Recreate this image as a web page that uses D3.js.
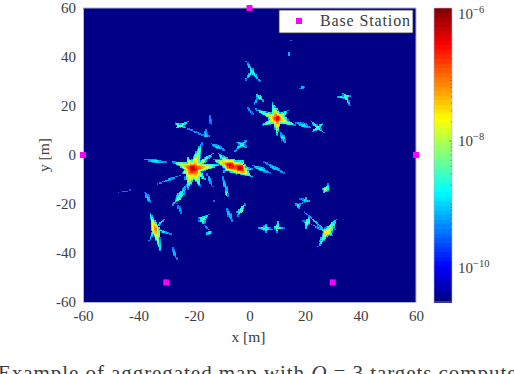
<!DOCTYPE html>
<html>
<head>
<meta charset="utf-8">
<script src="https://cdn.jsdelivr.net/npm/d3@7"></script>
<style>
  html, body { margin: 0; padding: 0; background: #fff; overflow: hidden; }
  text { font-family: "Liberation Serif", serif; fill: #3c3c3c; }
  .tick text { font-size: 15px; }
</style>
</head>
<body>
<div id="chart"></div>
<script>
// base stations, metres
var stationX = [0, -60, 60, -30, 30];
var stationY = [60, 0, 0, -52, -52];

var xTicks = [-60, -40, -20, 0, 20, 40, 60];
var yTicks = [-60, -40, -20, 0, 20, 40, 60];
var cbarMajor = [-6, -8, -10];

// log10 range of the colour bar
var powerLow = -10.54, powerHigh = -5.9;
var edgePower = -9.5;

// jet
var jetStops = ["#00007f", "#0000ff", "#00ffff", "#ffff00", "#ff0000", "#7f0000"];
var jetPos = [0, 0.125, 0.375, 0.625, 0.875, 1];

// spikes: from x0,y0 (the strong end) out to x1,y1, half width [m], peak log10 power
var mainArms = [
  [10,15,8,21.8,2,-6.5],[10,15,9.8,8.2,1.6,-6.5],[10,15,2,18.8,1.7,-6.9],[10,15,4.4,12.2,1.7,-6.9],
  [10,15,16.4,12.2,1.7,-6.8],[10,15,13.9,18.4,1.7,-6.9],[10,15,14,15,2.2,-6.3],[10,15,5.6,16,2.2,-6.3],
  [10,15,12.5,14,2.6,-6.2],[10,15,7.5,16,2.6,-6.2]
];
var clusterAArms = [
  [-20.3,-5.4,-28,-2.7,2.2,-6.3],[-20.3,-5.4,-24.4,-7.5,2.6,-6.1],[-20.3,-5.4,-10,-3.8,2.4,-6.4],
  [-20.3,-5.4,-17.2,5.4,2.2,-6.9],[-20.3,-5.4,-22.6,-0.7,2,-6.2],[-20.3,-5.4,-17.8,-12.9,2.4,-6.4],
  [-20.3,-5.4,-22.6,-14.3,2.2,-6.8],[-20.3,-5.4,-12.4,1.3,1.2,-7.2],[-20.3,-5.4,-17.9,-2,3.2,-6],
  [-20.3,-5.4,-23.3,-10.2,3.2,-6],[-20.3,-5.4,-16,-10,2,-6.3],[-20.3,-5.4,-24.3,-4,3.2,-6]
];
var clusterBArms = [
  [-7,-4,-13,-1.8,2.6,-6.2],[-7,-4,1.4,-9.1,2.8,-6.3],[-7,-4,1.3,-6.1,2.4,-6.5],[-7,-4,-11.4,0.8,1.8,-7],
  [-7,-4,-9.5,-6.9,1.8,-7],[-7,-4,-1.6,-2,1.8,-6.8],[-3.4,-5.3,-8.8,-2,2.8,-6.1],[-3.4,-5.3,0.2,-8.6,2.4,-6.1]
];
var starArms = [
  // X shapes and small stars
  [24.6,11.3,21.8,14,0.5,-8.2],[24.6,11.3,26.8,9.3,0.5,-8.2],[24.6,11.3,22.4,9.5,0.5,-8.2],[24.6,11.3,26.4,12.9,0.5,-8.2],
  [34.7,23.8,31.2,23.6,0.6,-8.2],[34.7,23.8,36.2,20,0.6,-8.2],[34.7,23.8,33.6,25.6,0.6,-8.2],[34.7,23.8,36.5,24.5,0.6,-8.2],
  [0.8,34.3,-1.3,38.5,0.5,-8.5],[0.8,34.3,4,29.7,0.5,-8.5],[0.8,34.3,-1.7,30.3,0.5,-8.5],[0.8,34.3,1.6,35.5,0.5,-8.5],
  [-25,12,-27.2,13.3,0.6,-7.9],[-25,12,-22,13.8,0.6,-7.9],[-25,12,-26.8,10.9,0.6,-7.9],[-25,12,-22.9,11.1,0.6,-7.9],
  [-15.7,7.5,-16,10.9,1,-8.8],
  [-2.8,4.5,-5.2,5.7,0.6,-8.6],[-2.8,4.5,-0.8,6.1,0.6,-8.6],[-2.8,4.5,-5.6,1.3,0.6,-8.6],[-2.8,4.5,-0.4,2.7,0.6,-8.6],
  [-34,-29.9,-36.1,-23.1,1.3,-7],[-34,-29.9,-32,-39.5,1.5,-7],[-34,-29.9,-30.5,-25.8,0.3,-8.4],
  [-34,-29.9,-27.5,-32.7,0.4,-8.4],[-34,-29.9,-36.5,-35.4,0.5,-8.2],
  [-16.9,-26.1,-18.5,-25.4,0.8,-8.2],[-16.9,-26.1,-14.7,-24.1,0.8,-8.2],[-16.9,-26.1,-16.4,-28.6,0.8,-8.2],[-16.9,-26.1,-18.5,-27.2,0.8,-8.2],
  [-3.1,-22.4,-1.6,-19.7,0.7,-8.2],[-3.1,-22.4,-4.4,-24.9,0.7,-8.2],[-3.1,-22.4,-5.2,-23.7,0.3,-8.6],
  [5.6,-29.9,2.6,-29.9,0.5,-8.4],[5.6,-29.9,8.6,-30.2,0.5,-8.4],[5.6,-29.9,5.6,-27.6,0.5,-8.4],[5.6,-29.9,5.6,-31.7,0.5,-8.4],
  [9.8,-29.7,10.6,-26.2,0.5,-8.2],[9.8,-29.7,9.4,-32,0.5,-8.2],[9.8,-29.7,12.4,-29.9,0.5,-8.2],[9.8,-29.7,8.8,-29,0.5,-8.2],
  [27.6,-13.9,28.4,-11.6,0.8,-8],[27.6,-13.9,26.6,-15.6,0.8,-8],[27.6,-13.9,26,-13.6,0.8,-8],
  [20,-18.4,22,-19.1,0.4,-8.8],[20,-18.4,20.4,-16.7,0.4,-8.8],[20,-18.4,19.2,-19.7,0.4,-8.8],[20,-18.4,18.2,-17.6,0.4,-8.8],
  [17.4,-20.4,16.4,-19.5,0.5,-8.6],[17.4,-20.4,18.8,-19.7,0.5,-8.6],[17.4,-20.4,17.6,-22.4,0.5,-8.6],
  [20.8,-27.5,21.5,-24.5,0.7,-8.2],[20.8,-27.5,20,-30.3,0.7,-8.2],[20.8,-27.5,19.2,-26.8,0.7,-8.2],
  [27.8,-31.7,31.4,-25.8,1.8,-7.4],[27.8,-31.7,24.8,-37.4,1,-7.8],[27.8,-31.7,21.8,-27.9,0.25,-8.6],
  [27.8,-31.7,19.4,-22.7,0.2,-8.7],[27.8,-31.7,30.8,-30.2,0.5,-8],[27.8,-31.7,30,-33.1,0.5,-8],[27.8,-31.7,25,-35.4,1.2,-7.8]
];
// lens shaped streaks, strongest in the middle: x0,y0,x1,y1, half width, peak
var lensRows = [
  [11,9.5,12.9,4.8,0.6,-8.7],[16.4,13.6,22.4,10.9,0.9,-8.8],[17.9,26.8,20,28.2,0.4,-9],
  [14,40.1,14.6,42.6,0.3,-9],[14.8,46.5,14.9,47.2,0.2,-9.4],[2.3,25.2,5,22,0.7,-8.2],
  [3,23.7,1.4,20.4,0.2,-9],[-1,19.7,1.2,16.7,0.3,-9.2],[-14.2,16.7,-13.9,11.6,0.25,-9.2],
  [-23.2,11.3,-16,7.8,0.25,-9.2],[-14.2,4.9,-8.8,2,0.7,-8.8],[-33.4,-11.8,-25,-8.2,0.35,-9],
  [-38.3,-1.6,-29.3,-3.1,0.6,-8.8],[0.8,-4.1,7.4,-7.2,0.8,-8.7],[5,-2.7,12.8,-7.5,0.6,-8.9],
  [-10,-8.2,-7.6,-17,0.45,-8.8],[-9,-14,-7.8,-17,0.4,-8.2],[-15.4,-7.5,-13.3,-12.9,0.4,-9],
  [-22.2,-11.4,-28,-20.7,0.8,-8.6],[-23.2,-15.1,-27.9,-20,0.5,-8.2],[-26.2,-19.6,-24.4,-24.5,0.3,-9.2],
  [-37.7,-15,-35.6,-19.7,0.6,-8.9],[-28,-37.4,-26.2,-42.6,0.5,-9],[-47.3,-15.2,-43,-14.3,0.15,-9.4],
  [-16.4,-28.6,-14.2,-30.6,0.2,-9.3],[-15.7,-32.4,-13.6,-31,0.5,-8.2],[-8.5,-21.1,-6.1,-27.2,0.6,-8.9],
  [-13,-18.1,-12.4,-19.5,0.15,-9.4]
];

var width = 514, height = 374;
var cell = 0.5;

var x = d3.scaleLinear().domain([-60, 60]).range([83, 416]);
var y = d3.scaleLinear().domain([-60, 60]).range([302, 8]);
var cbarY = d3.scaleLog().domain([Math.pow(10, powerLow), Math.pow(10, powerHigh)]).range([302, 8]);

var jet = d3.scaleLinear().domain(jetPos).range(jetStops).clamp(true);
var color = function(p) {
  var t = (p - powerLow) / (powerHigh - powerLow);
  // 64 flat levels like the matlab map
  return jet((Math.floor(Math.min(t, 0.9999) * 64) + 0.5) / 64);
};

var svg = d3.select("#chart").append("svg")
    .attr("width", width)
    .attr("height", height)
    .style("display", "block");

// fill the grid, keeping the strongest spike in each cell
var nx = Math.round(120 / cell), ny = nx;
var grid = new Float64Array(nx * ny).fill(powerLow);

function addArm(x0, y0, x1, y1, w, peak) {
  var dx = x1 - x0, dy = y1 - y0, len2 = dx * dx + dy * dy;
  var len = Math.sqrt(len2);
  var i0 = Math.max(0, Math.floor((Math.min(x0, x1) - w + 60) / cell));
  var i1 = Math.min(nx - 1, Math.ceil((Math.max(x0, x1) + w + 60) / cell));
  var j0 = Math.max(0, Math.floor((Math.min(y0, y1) - w + 60) / cell));
  var j1 = Math.min(ny - 1, Math.ceil((Math.max(y0, y1) + w + 60) / cell));
  for (var j = j0; j <= j1; j++) {
    for (var i = i0; i <= i1; i++) {
      var px = -60 + (i + 0.5) * cell - x0, py = -60 + (j + 0.5) * cell - y0;
      var t = (px * dx + py * dy) / len2;
      if (t < -0.02 || t >= 1) continue;
      t = Math.max(t, 0);
      var d = Math.abs(px * dy - py * dx) / len;
      var hw = w * Math.pow(1 - t, 1.1) + 0.12;
      if (d >= hw) continue;
      var s = d / hw;
      var v = edgePower + (peak - edgePower) * Math.pow(1 - t, 0.75) * (1 - s * s);
      if (v > grid[j * nx + i]) grid[j * nx + i] = v;
    }
  }
}

[mainArms, clusterAArms, clusterBArms, starArms].forEach(function(rows) {
  rows.forEach(function(r) { addArm(r[0], r[1], r[2], r[3], r[4], r[5]); });
});
lensRows.forEach(function(r) {
  var mx = (r[0] + r[2]) / 2, my = (r[1] + r[3]) / 2;
  addArm(mx, my, r[0], r[1], r[4], r[5]);
  addArm(mx, my, r[2], r[3], r[4], r[5]);
});

var cells = [];
for (var j = 0; j < ny; j++) {
  for (var i = 0; i < nx; i++) {
    if (grid[j * nx + i] > powerLow) {
      cells.push({ cx: -60 + i * cell, cy: -60 + j * cell, p: grid[j * nx + i] });
    }
  }
}

// map
svg.append("rect")
    .attr("x", x(-60))
    .attr("y", y(60))
    .attr("width", x(60) - x(-60))
    .attr("height", y(-60) - y(60))
    .attr("fill", color(powerLow));

svg.append("g")
    .attr("shape-rendering", "crispEdges")
  .selectAll("rect")
  .data(cells)
  .enter().append("rect")
    .attr("x", function(d) { return x(d.cx); })
    .attr("y", function(d) { return y(d.cy + cell); })
    .attr("width", x(cell) - x(0) + 0.4)
    .attr("height", y(0) - y(cell) + 0.4)
    .attr("fill", function(d) { return color(d.p); });

// axes
var xAxis = svg.append("g")
    .attr("transform", "translate(0,302)")
    .call(d3.axisBottom(x).tickValues(xTicks).tickSize(0).tickPadding(8).tickFormat(String));
var yAxis = svg.append("g")
    .attr("transform", "translate(83,0)")
    .call(d3.axisLeft(y).tickValues(yTicks).tickSize(0).tickPadding(7).tickFormat(String));
xAxis.select(".domain").attr("stroke", "#b4b4d4");
yAxis.select(".domain").attr("stroke", "#b4b4d4");
svg.selectAll(".tick text").style("font-family", '"Liberation Serif", serif').attr("fill", "#3c3c3c");

svg.append("path")
    .attr("d", "M" + x(-60) + "," + y(60) + "H" + x(60) + "V" + y(-60))
    .attr("fill", "none")
    .attr("stroke", "#b4b4d4");

svg.append("text")
    .attr("x", x(0) - 1)
    .attr("y", 342)
    .attr("text-anchor", "middle")
    .style("font-size", "15.5px")
    .text("x [m]");

svg.append("text")
    .attr("transform", "translate(49," + y(0) + ") rotate(-90)")
    .attr("text-anchor", "middle")
    .style("font-size", "15.5px")
    .text("y [m]");

// base stations
svg.append("g").selectAll("rect")
    .data(stationX)
    .enter().append("rect")
    .attr("x", function(d) { return x(d) - 3; })
    .attr("y", function(d, i) { return y(stationY[i]) - 3; })
    .attr("width", 6)
    .attr("height", 6)
    .attr("fill", "#ff00ff");

// legend
var legend = svg.append("g");
legend.append("rect")
    .attr("x", 279)
    .attr("y", 10)
    .attr("width", 134)
    .attr("height", 23)
    .attr("fill", "#fff")
    .attr("stroke", "#333")
    .attr("stroke-width", 0.8);
legend.append("rect")
    .attr("x", 296)
    .attr("y", 18)
    .attr("width", 6)
    .attr("height", 6)
    .attr("fill", "#ff00ff");
legend.append("text")
    .attr("x", 320)
    .attr("y", 26)
    .attr("textLength", 90)
    .style("font-size", "16px")
    .text("Base Station");

// colour bar
var levels = d3.range(64);
svg.append("g")
    .attr("shape-rendering", "crispEdges")
  .selectAll("rect")
  .data(levels)
  .enter().append("rect")
    .attr("x", 434)
    .attr("y", function(d) { return cbarY(Math.pow(10, powerLow + (d + 1) * (powerHigh - powerLow) / 64)); })
    .attr("width", 18)
    .attr("height", (302 - 8) / 64 + 0.5)
    .attr("fill", function(d) { return color(powerLow + (d + 0.5) * (powerHigh - powerLow) / 64); });

svg.append("rect")
    .attr("x", 434)
    .attr("y", 8)
    .attr("width", 18)
    .attr("height", 294)
    .attr("fill", "none")
    .attr("stroke", "#b4b4d4")
    .attr("stroke-width", 0.6);

var minorTicks = [];
d3.range(-11, -6).forEach(function(e) {
  d3.range(1, 10).forEach(function(m) {
    var v = m * Math.pow(10, e);
    if (cbarY(v) >= 8 && cbarY(v) <= 302) minorTicks.push(v);
  });
});
svg.append("g").selectAll("line")
    .data(minorTicks)
    .enter().append("line")
    .attr("x1", 452)
    .attr("x2", function(d) { return cbarMajor.indexOf(Math.round(Math.log10(d) * 1000) / 1000) >= 0 ? 449 : 450.5; })
    .attr("y1", function(d) { return cbarY(d); })
    .attr("y2", function(d) { return cbarY(d); })
    .attr("stroke", "#444")
    .attr("stroke-width", 0.5);

var cbarLabels = svg.append("g").selectAll("text")
    .data(cbarMajor)
    .enter().append("text")
    .attr("x", 458)
    .attr("y", function(d) { return cbarY(Math.pow(10, d)) + 5; })
    .style("font-size", "15px");
cbarLabels.append("tspan").text("10");
cbarLabels.append("tspan")
    .attr("dy", -6)
    .style("font-size", "10.5px")
    .text(function(d) { return "\u2212" + Math.abs(d); });

// caption, cut by the edge of the picture
var caption = svg.append("text")
    .attr("x", -2)
    .attr("y", 380)
    .attr("textLength", 530)
    .style("font-size", "21px");
caption.append("tspan").text("Example of aggregated map with ");
caption.append("tspan").style("font-style", "italic").text("Q");
caption.append("tspan").text(" = 3 targets computed");
</script>
</body>
</html>
